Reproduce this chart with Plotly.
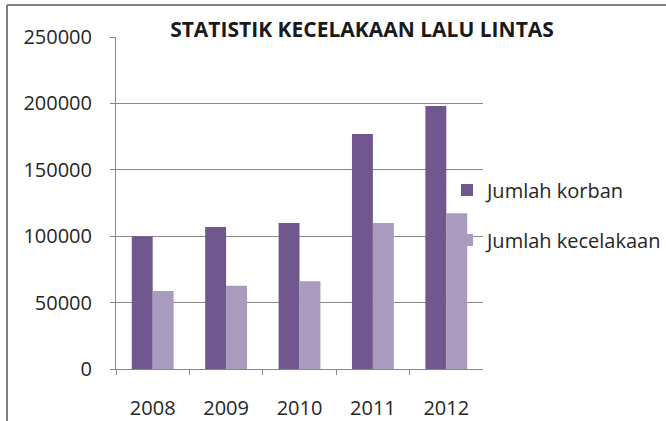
import plotly.graph_objects as go

years = ["2008", "2009", "2010", "2011", "2012"]
korban = [100000, 107000, 110000, 177000, 198000]
kecelakaan = [58700, 62700, 66000, 110000, 117300]
y_ticks = [0, 50000, 100000, 150000, 200000, 250000]

dark = "#70588F"
light = "#A89BBD"
grid = "#878787"
txt = "#262626"
font_family = "Open Sans, Lato, sans-serif"

W, H = 666, 421
# paper area starts at the chart frame (x=7, y=5) and runs to the window edges
PL, PT = 7, 5
pw, ph = W - PL, H - PT

def px(x):
    return (x - PL) / pw

def py(y):
    return (H - y) / ph

fig = go.Figure()
fig.add_trace(go.Bar(x=years, y=korban, name="Jumlah korban", marker_color=dark,
                     marker_line_width=0, legend="legend"))
fig.add_trace(go.Bar(x=years, y=kecelakaan, name="Jumlah kecelakaan", marker_color=light,
                     marker_line_width=0, legend="legend2"))

fig.update_layout(
    width=W, height=H,
    margin=dict(l=PL, r=0, t=PT, b=0, autoexpand=False),
    paper_bgcolor="white", plot_bgcolor="white",
    barmode="group", bargap=0.43, bargroupgap=0,
    font=dict(family=font_family, color=txt, size=20),
    title=dict(text="<b>STATISTIK KECELAKAAN LALU LINTAS</b>",
               x=362 / W, xanchor="center", y=1 - 30 / H, yanchor="middle",
               font=dict(size=21, family=font_family, color="#1a1a1a")),
    showlegend=True,
    legend=dict(x=px(447), xanchor="left", y=py(190), yanchor="middle",
                bgcolor="rgba(0,0,0,0)", font=dict(size=20), itemclick=False),
    legend2=dict(x=px(447), xanchor="left", y=py(240), yanchor="middle",
                 bgcolor="rgba(0,0,0,0)", font=dict(size=20), itemclick=False),
    xaxis=dict(type="category", domain=[px(116), px(483)],
               showline=True, linecolor=grid, linewidth=1,
               ticks="outside", tickson="boundaries", ticklen=5, tickcolor=grid,
               showgrid=False, ticklabelstandoff=21, tickfont=dict(size=20)),
    yaxis=dict(range=[0, 250000], domain=[py(369), py(37)],
               tickvals=y_ticks, ticktext=[str(v) for v in y_ticks],
               showline=True, linecolor=grid, linewidth=1,
               ticks="outside", ticklen=5, tickcolor=grid,
               showgrid=True, gridcolor=grid, gridwidth=1, zeroline=False,
               ticklabelstandoff=14, tickfont=dict(size=20)),
    shapes=[
        dict(type="line", xref="paper", yref="paper",
             x0=0, x1=1, y0=1, y1=1, line=dict(color="#7f7f7f", width=2), layer="above"),
        dict(type="line", xref="paper", yref="paper",
             x0=0, x1=0, y0=0, y1=1, line=dict(color="#7f7f7f", width=2), layer="above"),
    ],
)

fig.write_html("out.html", post_script="document.body.style.margin='0';",
               config={"displayModeBar": False})
